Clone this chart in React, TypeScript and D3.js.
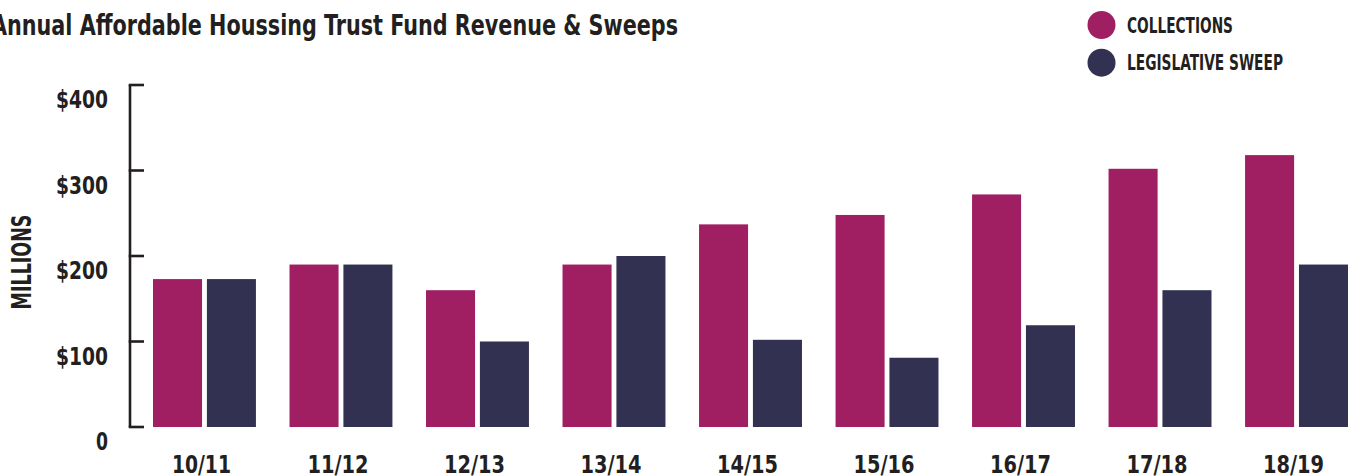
import React from "react";
import * as d3 from "d3";

const categories = ["10/11", "11/12", "12/13", "13/14", "14/15", "15/16", "16/17", "17/18", "18/19"];
const collections = [173, 190, 160, 190, 237, 248, 272, 302, 318];
const sweeps = [173, 190, 100, 200, 102, 81, 119, 160, 190];
const seriesNames = ["COLLECTIONS", "LEGISLATIVE SWEEP"];
const seriesColors = ["#A01F62", "#323152"];
const yTicks = [0, 100, 200, 300, 400];
const yTickLabels = ["0", "$100", "$200", "$300", "$400"];
const title = "Annual Affordable Houssing Trust Fund Revenue & Sweeps";
const yTitle = "MILLIONS";

const FONT = "'DejaVu Sans Condensed', 'Liberation Sans Narrow', sans-serif";
const INK = "#231F20";

export default function App() {
  const W = 1351;
  const H = 476;
  const y = d3.scaleLinear().domain([0, 400]).range([427, 85]);
  const x0 = d3.scaleBand<string>().domain(categories).range([153, 1348]).paddingInner(0.246).paddingOuter(0);
  const x1 = d3.scaleBand<number>().domain([0, 1]).range([0, x0.bandwidth()]).paddingInner(0.09);
  const data = [collections, sweeps];
  const axisX = 130;

  return (
    <svg width={W} height={H} style={{ position: "absolute", left: 0, top: 0, background: "#fff" }} fontFamily={FONT}>
      <text x={-9} y={35} fontSize={28} fontWeight="bold" fill={INK} textLength={687} lengthAdjust="spacingAndGlyphs">
        {title}
      </text>

      {seriesNames.map((name, i) => (
        <g key={name} transform={`translate(1101.5, ${25 + i * 37.7})`}>
          <circle r={14} fill={seriesColors[i]} />
          <text x={25.5} y={7.5} fontSize={21} fontWeight="bold" fill={INK}
            textLength={i === 0 ? 106 : 156} lengthAdjust="spacingAndGlyphs">
            {name}
          </text>
        </g>
      ))}

      {data.map((vals, s) =>
        categories.map((c, i) => (
          <rect key={`${s}-${c}`} x={(x0(c) as number) + (x1(s) as number)} y={y(vals[i])}
            width={x1.bandwidth()} height={y(0) - y(vals[i])} fill={seriesColors[s]} />
        ))
      )}

      <line x1={axisX} x2={axisX} y1={y(400)} y2={y(0)} stroke={INK} strokeWidth={2.6} />
      {yTicks.map((t, i) => (
        <g key={t}>
          <line x1={axisX - 1.3} x2={axisX + 14} y1={y(t)} y2={y(t)} stroke={INK} strokeWidth={2.6} />
          <text x={108} y={y(t) + 23} textAnchor="end" fontSize={25} fontWeight="bold" fill={INK}
            textLength={t === 0 ? 12 : 52} lengthAdjust="spacingAndGlyphs">
            {yTickLabels[i]}
          </text>
        </g>
      ))}

      <text transform={`translate(31, 262) rotate(-90)`} textAnchor="middle" fontSize={26} fontWeight="bold" fill={INK}
        textLength={95} lengthAdjust="spacingAndGlyphs">
        {yTitle}
      </text>

      {categories.map((c, i) => (
        <text key={c} x={(x0(c) as number) + x0.bandwidth() / 2 - 3} y={473} textAnchor="middle" fontSize={25} fontWeight="bold" fill={INK}
          textLength={i === 0 ? 59 : 61} lengthAdjust="spacingAndGlyphs">
          {c}
        </text>
      ))}
    </svg>
  );
}
